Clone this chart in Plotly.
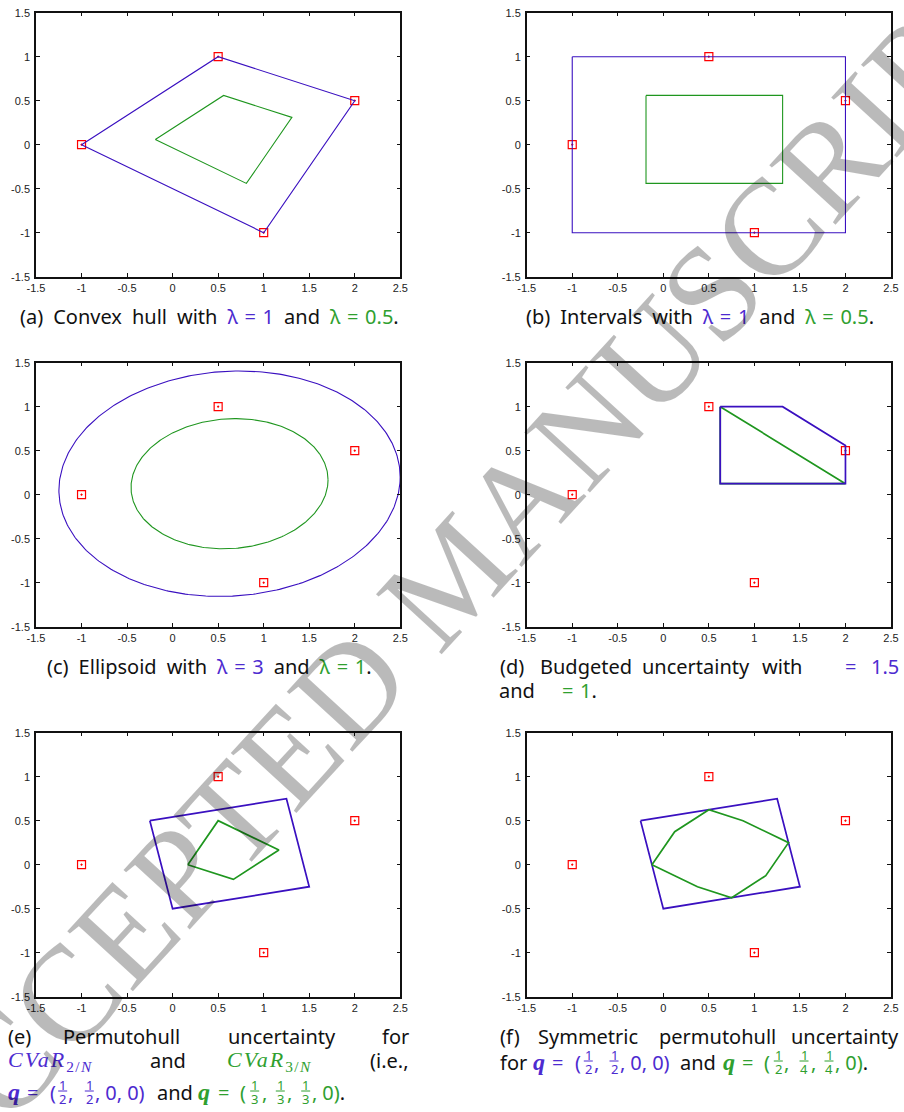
import numpy as np
import plotly.graph_objects as go

W, H = 904, 1112

# ---------------------------------------------------------------- data
# sample points shown in every panel
POINT_X = [-1.0, 0.5, 2.0, 1.0]
POINT_Y = [0.0, 1.0, 0.5, -1.0]

# (a) convex hull, lambda = 1 and lambda = 0.5
HULL_X = [-1.0, 0.5, 2.0, 1.0, -1.0]
HULL_Y = [0.0, 1.0, 0.5, -1.0, 0.0]
HULL_HALF_X = [-0.19, 0.56, 1.31, 0.81, -0.19]
HULL_HALF_Y = [0.06, 0.56, 0.31, -0.44, 0.06]

# (b) intervals, lambda = 1 and lambda = 0.5
BOX_X = [-1.0, 2.0, 2.0, -1.0, -1.0]
BOX_Y = [1.0, 1.0, -1.0, -1.0, 1.0]
BOX_HALF_X = [-0.19, 1.31, 1.31, -0.19, -0.19]
BOX_HALF_Y = [0.56, 0.56, -0.44, -0.44, 0.56]

# (c) ellipsoid: centre, shape matrix and the two lambda levels
ELLIPSE_CENTER = [0.625, 0.125]
ELLIPSE_SHAPE = [[1.17, 0.047], [0.047, 0.547]]
ELLIPSE_LAMBDAS = [3.0, 1.0]

# (d) budgeted uncertainty, Gamma = 1.5 and Gamma = 1
BUDGET_A_X = [0.625, 1.31, 2.0, 2.0, 0.625, 0.625]
BUDGET_A_Y = [1.0, 1.0, 0.56, 0.125, 0.125, 1.0]
BUDGET_B_X = [0.625, 2.0, 0.625, 0.625]
BUDGET_B_Y = [1.0, 0.125, 0.125, 1.0]

# (e) permutohull for CVaR_2/N and CVaR_3/N
PERM_A_X = [-0.25, 1.25, 1.5, 0.0, -0.25]
PERM_A_Y = [0.5, 0.75, -0.25, -0.5, 0.5]
PERM_B_X = [0.167, 0.5, 1.167, 0.667, 0.167]
PERM_B_Y = [0.0, 0.5, 0.167, -0.167, 0.0]

# (f) symmetric permutohull
SYM_A_X = [-0.25, 1.25, 1.5, 0.0, -0.25]
SYM_A_Y = [0.5, 0.75, -0.25, -0.5, 0.5]
SYM_B_X = [-0.125, 0.125, 0.5, 0.875, 1.375, 1.125, 0.75, 0.375, -0.125]
SYM_B_Y = [0.0, 0.375, 0.625, 0.5, 0.25, -0.125, -0.375, -0.25, 0.0]

X_TICKS = [-1.5, -1, -0.5, 0, 0.5, 1, 1.5, 2, 2.5]
X_TICK_TEXT = ["-1.5", "-1", "-0.5", "0", "0.5", "1", "1.5", "2", "2.5"]
Y_TICKS = [-1.5, -1, -0.5, 0, 0.5, 1, 1.5]
Y_TICK_TEXT = ["-1.5", "-1", "-0.5", "0", "0.5", "1", "1.5"]

# ---------------------------------------------------------------- style
BLUE = "#3a10c0"
GREEN = "#1f961f"
BLUE_TXT = "#4d2bd0"
GREEN_TXT = "#2fa02f"
RED = "#ff0000"
INK = "#111111"
FRAME = "#111111"
SANS = "Noto Sans"
SERIF = "Liberation Serif"
CAP = 20

COL_LEFT = [36.0, 526.7]
ROW_TOP = [12.7, 362.7, 732.7]
PW, PH = 364.3, 264.0

fig = go.Figure()


def ellipse(center, shape, lam, n=361):
    L = np.linalg.cholesky(np.array(shape))
    t = np.linspace(0.0, 2.0 * np.pi, n)
    u = np.vstack([np.cos(t), np.sin(t)])
    pts = np.array(center)[:, None] + np.sqrt(lam) * (L @ u)
    return pts[0], pts[1]


e_outer = ellipse(ELLIPSE_CENTER, ELLIPSE_SHAPE, ELLIPSE_LAMBDAS[0])
e_inner = ellipse(ELLIPSE_CENTER, ELLIPSE_SHAPE, ELLIPSE_LAMBDAS[1])

# per panel: list of (x, y, colour) outlines, and line width
panels = [
    ([(HULL_X, HULL_Y, BLUE), (HULL_HALF_X, HULL_HALF_Y, GREEN)], 1.1),
    ([(BOX_X, BOX_Y, BLUE), (BOX_HALF_X, BOX_HALF_Y, GREEN)], 1.1),
    ([(e_outer[0], e_outer[1], BLUE), (e_inner[0], e_inner[1], GREEN)], 1.1),
    ([(BUDGET_B_X, BUDGET_B_Y, GREEN), (BUDGET_A_X, BUDGET_A_Y, BLUE)], 1.7),
    ([(PERM_A_X, PERM_A_Y, BLUE), (PERM_B_X, PERM_B_Y, GREEN)], 1.7),
    ([(SYM_A_X, SYM_A_Y, BLUE), (SYM_B_X, SYM_B_Y, GREEN)], 1.7),
]

axis_common = dict(
    showgrid=False, zeroline=False, showline=True, linecolor=FRAME,
    linewidth=1.5, mirror="ticks", ticks="inside", ticklen=4, tickwidth=1,
    tickcolor=FRAME, fixedrange=True, automargin=False,
    tickfont=dict(family="Liberation Sans", size=11, color="#222222"),
)

for i, (outlines, lw) in enumerate(panels):
    r, c = divmod(i, 2)
    sfx = "" if i == 0 else str(i + 1)
    x0, y0 = COL_LEFT[c], ROW_TOP[r]
    fig.update_layout({
        f"xaxis{sfx}": dict(axis_common, domain=[x0 / W, (x0 + PW) / W],
                            range=[-1.5, 2.5], anchor=f"y{sfx}",
                            tickvals=X_TICKS, ticktext=X_TICK_TEXT,
                            ticklabelstandoff=0),
        f"yaxis{sfx}": dict(axis_common, domain=[1 - (y0 + PH) / H, 1 - y0 / H],
                            range=[-1.5, 1.5], anchor=f"x{sfx}",
                            tickvals=Y_TICKS, ticktext=Y_TICK_TEXT,
                            ticklabelstandoff=2),
    })
    fig.add_trace(go.Scatter(
        x=POINT_X, y=POINT_Y, mode="markers", xaxis=f"x{sfx}", yaxis=f"y{sfx}",
        marker=dict(symbol="square-open-dot", size=8, color=RED,
                    line=dict(color=RED, width=1.2)),
        showlegend=False, hoverinfo="skip"))
    for xs, ys, col in outlines:
        fig.add_trace(go.Scatter(
            x=list(xs), y=list(ys), mode="lines", xaxis=f"x{sfx}", yaxis=f"y{sfx}",
            line=dict(color=col, width=lw), showlegend=False, hoverinfo="skip"))

# ---------------------------------------------------------------- captions
K = {SANS: 0.388, SERIF: 0.3375}
SP = "\u2002"      # inter-word space of the caption font
MS = "\u2004"      # space around relation signs
TS = "\u2005"      # space after commas inside tuples


def text(x, base, s, color=INK, size=CAP, family=SANS, anchor="left"):
    fig.add_annotation(
        x=x / W, y=1 - (base - K[family] * size) / H, xref="paper", yref="paper",
        text=s, showarrow=False, xanchor=anchor, yanchor="middle",
        borderpad=0, borderwidth=0,
        font=dict(family=family, size=size, color=color))


def frac(xc, base, num, den, color):
    for s, dy in ((num, -15.0), (den, -1.0)):
        fig.add_annotation(
            x=xc / W, y=1 - (base + dy) / H, xref="paper", yref="paper",
            text=s, showarrow=False, xanchor="center", yanchor="middle",
            borderpad=0, borderwidth=0,
            font=dict(family=SANS, size=13, color=color))
    fig.add_shape(type="line", xref="paper", yref="paper",
                  x0=(xc - 4.5) / W, x1=(xc + 4.5) / W,
                  y0=1 - (base - 9.0) / H, y1=1 - (base - 9.0) / H,
                  line=dict(color=color, width=1))


def col(s, c):
    return f"<span style='color:{c}'>{s}</span>"


def cap(words):
    return SP.join(words)


LAM = "\u03bb"
Q = "<b><i>q</i></b>"


def cvar(k):
    return (f"<span style='font-style:italic;letter-spacing:2px'>CVaR</span>"
            f"<sub><span style='letter-spacing:1.5px'>{k}/</span><i>N</i></sub>")


def eq(v):
    return f"{LAM}{MS}={MS}{v}"


text(209.5, 324, cap(["(a)", "Convex", "hull", "with", col(eq("1"), BLUE_TXT),
                      "and", col(eq("0.5"), GREEN_TXT) + "."]), anchor="center")
text(700, 324, cap(["(b)", "Intervals", "with", col(eq("1"), BLUE_TXT),
                    "and", col(eq("0.5"), GREEN_TXT) + "."]), anchor="center")
text(209, 674, cap(["(c)", "Ellipsoid", "with", col(eq("3"), BLUE_TXT),
                    "and", col(eq("1"), GREEN_TXT) + "."]), anchor="center")

# (d) justified two-line caption
text(500, 674, "(d)")
text(540, 674, "Budgeted")
text(641.7, 674, "uncertainty")
text(761.7, 674, "with")
text(845, 674, "=", BLUE_TXT)
text(899.3, 674, "1.5", BLUE_TXT, anchor="right")
text(499.4, 698, "and")
text(562, 698, col(f"={MS}1", GREEN_TXT) + ".")

# (e) justified three-line caption
text(8.3, 1044, "(e)")
text(63.3, 1044, "Permutohull")
text(228, 1044, "uncertainty")
text(409.3, 1044, "for", anchor="right")
text(8.3, 1068, cvar("2"), BLUE_TXT, size=22, family=SERIF)
text(150, 1068, "and")
text(226.7, 1068, cvar("3"), GREEN_TXT, size=22, family=SERIF)
text(409.3, 1068, "(i.e.,", anchor="right")

b3 = 1100
text(8.3, b3, Q, BLUE_TXT, size=24, family=SERIF)
text(26.7, b3, "=", BLUE_TXT)
text(50, b3, "(", BLUE_TXT)
frac(62.7, b3, "1", "2", BLUE_TXT)
text(68, b3, ",", BLUE_TXT)
frac(89.3, b3, "1", "2", BLUE_TXT)
text(95, b3, f",{TS}0,{TS}0)", BLUE_TXT)
text(156.7, b3, "and")
text(198.3, b3, Q, GREEN_TXT, size=24, family=SERIF)
text(218.3, b3, "=", GREEN_TXT)
text(240, b3, "(", GREEN_TXT)
frac(254.7, b3, "1", "3", GREEN_TXT)
text(261.5, b3, ",", GREEN_TXT)
frac(280.3, b3, "1", "3", GREEN_TXT)
text(286.5, b3, ",", GREEN_TXT)
frac(305.7, b3, "1", "3", GREEN_TXT)
text(312, b3, col(f",{TS}0)", GREEN_TXT) + ".")

# (f) justified two-line caption
text(500, 1044, "(f)")
text(538.3, 1044, "Symmetric")
text(659, 1044, "permutohull")
text(899.3, 1044, "uncertainty", anchor="right")

b2 = 1070
text(500, b2, "for")
text(532.7, b2, Q, BLUE_TXT, size=24, family=SERIF)
text(551.7, b2, "=", BLUE_TXT)
text(575, b2, "(", BLUE_TXT)
frac(588.3, b2, "1", "2", BLUE_TXT)
text(594, b2, ",", BLUE_TXT)
frac(614, b2, "1", "2", BLUE_TXT)
text(620, b2, f",{TS}0,{TS}0)", BLUE_TXT)
text(680, b2, "and")
text(722.7, b2, Q, GREEN_TXT, size=24, family=SERIF)
text(741.7, b2, "=", GREEN_TXT)
text(764, b2, "(", GREEN_TXT)
frac(778.3, b2, "1", "2", GREEN_TXT)
text(784, b2, ",", GREEN_TXT)
frac(804, b2, "1", "4", GREEN_TXT)
text(810.5, b2, ",", GREEN_TXT)
frac(829, b2, "1", "4", GREEN_TXT)
text(835, b2, col(f",{TS}0)", GREEN_TXT) + ".")

# ---------------------------------------------------------------- watermark
fig.add_annotation(
    x=452 / W, y=1 - 575 / H, xref="paper", yref="paper",
    text="ACCEPTED MANUSCRIPT", showarrow=False, textangle=-47.5,
    xanchor="center", yanchor="middle",
    font=dict(family=SERIF, size=136, color="rgba(0,0,0,0.27)"))

fig.update_layout(
    width=W, height=H, margin=dict(l=0, r=0, t=0, b=0),
    paper_bgcolor="white", plot_bgcolor="white", showlegend=False,
)

fig.write_html("out.html", config={"displayModeBar": False})
